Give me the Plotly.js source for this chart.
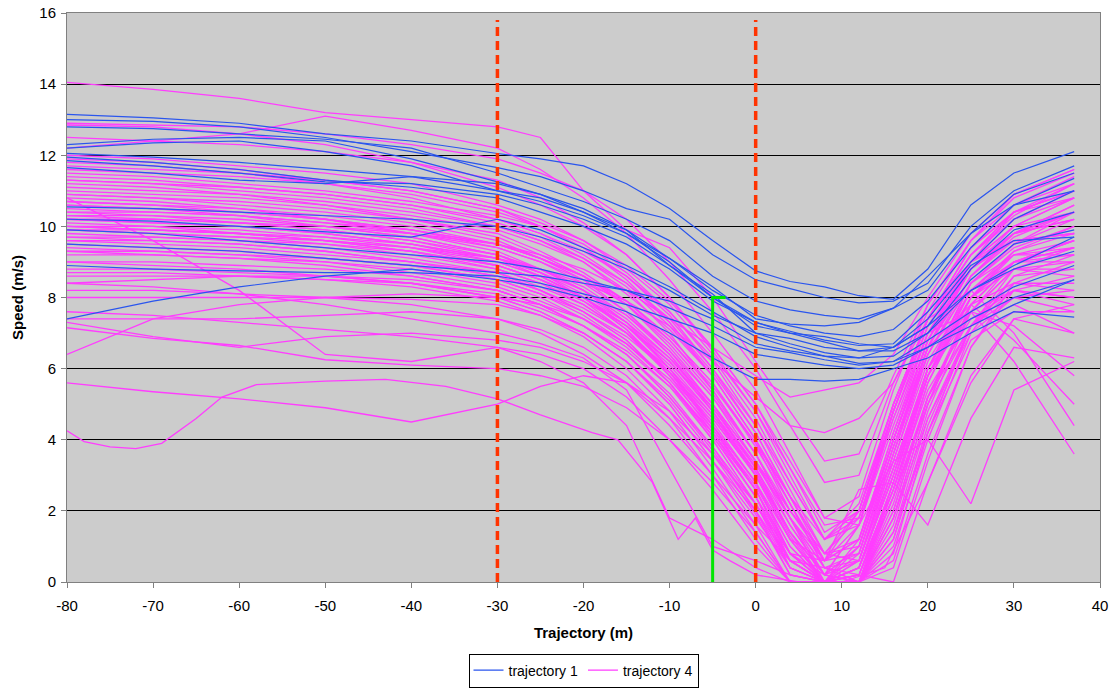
<!DOCTYPE html>
<html>
<head>
<meta charset="utf-8">
<script src="https://cdn.plot.ly/plotly-3.0.1.min.js"></script>
<style>html,body{margin:0;padding:0;background:#fff;}#chart{width:1114px;height:689px;}</style>
</head>
<body>
<div id="chart"></div>
<script>
// Shared sample positions along the trajectory (m)
const X = [-80,-70,-60,-50,-40,-30,-25,-20,-15,-10,-5,0,4,8,12,16,20,25,30,37];

// axis ticks
const xTickVals = [-80,-70,-60,-50,-40,-30,-20,-10,0,10,20,30,40];
const xTickLabels = ['-80','-70','-60','-50','-40','-30','-20','-10','0','10','20','30','40'];

// trajectory 1 (blue) speeds (m/s)
const blue1  = [13.15,13.05,12.9,12.6,12.4,12.05,11.9,11.7,11.2,10.5,9.6,8.75,8.45,8.3,8.05,7.95,8.8,10.6,11.5,12.1];
const blue2  = [13.0,12.95,12.8,12.5,12.1,11.65,11.4,11.0,10.5,10.2,9.2,8.5,8.25,8.0,7.85,7.9,8.4,10.0,11.0,11.7];
const blue3  = [12.8,12.75,12.6,12.45,12.2,11.5,11.1,10.7,10.2,9.6,8.6,7.9,7.65,7.5,7.4,7.7,8.2,9.8,10.9,11.5];
const blue4  = [12.3,12.45,12.5,12.4,11.9,11.25,10.9,10.5,9.9,9.1,8.2,7.5,7.2,7.0,6.9,7.1,7.9,9.4,10.6,11.35];
const blue5  = [12.2,12.35,12.4,12.1,11.7,11.0,10.7,10.3,9.8,9.0,8.0,7.3,7.05,6.8,6.65,6.7,7.6,9.0,10.2,11.0];
const blue6  = [12.05,11.95,11.8,11.6,11.4,11.2,10.9,10.4,9.9,8.9,8.0,7.2,7.0,6.9,6.7,6.6,7.2,8.8,9.9,10.4];
const blue7  = [11.95,11.8,11.6,11.3,11.1,10.8,10.4,10.0,9.5,8.8,7.9,7.3,7.0,6.75,6.5,6.5,7.0,8.5,9.5,9.9];
const blue8  = [11.85,11.7,11.5,11.25,11.2,10.9,10.6,10.2,9.7,8.9,8.1,7.0,6.85,6.6,6.5,6.6,7.4,8.9,9.6,9.7];
const blue9  = [11.65,11.5,11.3,11.2,11.4,11.0,10.8,10.4,9.8,9.1,8.3,7.4,7.25,7.2,7.3,7.7,8.6,9.8,10.6,11.0];
const blue10 = [10.55,10.5,10.4,10.3,10.2,10.0,9.7,9.3,8.8,8.2,7.5,7.0,6.7,6.45,6.3,6.35,7.0,8.2,8.8,9.3];
const blue11 = [10.2,10.15,10.0,9.85,9.7,10.2,9.9,9.4,8.9,8.3,7.6,6.9,6.6,6.35,6.15,6.2,6.8,7.6,8.3,8.9];
const blue12 = [9.9,9.8,9.6,9.4,9.2,9.0,8.8,8.5,8.2,7.7,7.2,6.6,6.45,6.25,6.1,6.2,6.6,7.2,7.8,8.5];
const blue13 = [7.4,7.9,8.3,8.6,8.8,8.5,8.3,8.0,7.6,7.0,6.3,5.7,5.7,5.65,5.7,6.0,6.3,7.0,7.6,7.45];
const blue14 = [9.5,9.4,9.3,9.1,8.9,8.7,8.6,8.4,8.2,7.9,7.4,6.7,6.5,6.35,6.3,6.6,7.2,8.2,8.9,9.7];
const blue15 = [8.9,8.8,8.75,8.7,8.7,8.6,8.4,8.1,7.8,7.4,7.0,6.4,6.25,6.1,6.0,6.1,6.6,7.4,8.0,8.5];

// trajectory 4 (magenta) speeds (m/s)
const pink1  = [14.05,13.85,13.6,13.2,13.0,12.8,12.5,11.0,9.9,9.4,8.0,6.2,4.8,3.4,3.6,5.8,7.8,9.6,10.8,11.5];
const pink2  = [12.9,12.85,12.8,12.6,12.3,11.9,11.5,11.0,10.2,9.0,7.6,6.0,4.4,2.8,3.0,5.6,7.6,9.6,10.9,11.6];
const pink3  = [12.2,12.4,12.6,13.1,12.7,12.2,11.6,10.8,9.8,8.5,7.0,5.4,3.6,1.8,1.6,4.8,7.4,9.4,10.4,11.0];
const pink4  = [12.85,12.8,12.6,12.3,11.8,11.1,10.6,10.0,9.2,8.0,6.6,5.0,3.2,1.6,1.8,4.6,7.0,9.0,10.0,10.8];
const pink5  = [12.0,11.9,11.7,11.5,11.2,10.6,10.2,9.6,8.8,7.8,6.4,4.8,3.2,1.4,2.0,5.0,7.4,9.2,10.3,11.2];
const pink6  = [11.7,11.6,11.5,11.3,11.0,10.5,10.0,9.5,8.7,7.6,6.2,4.4,2.6,0.8,1.2,4.2,6.8,8.8,9.8,10.6];
const pink7  = [11.5,11.4,11.2,11.0,10.7,10.3,10.0,9.4,8.6,7.5,6.0,4.2,2.4,0.6,0.8,3.8,6.6,8.6,9.7,10.4];
const pink8  = [11.4,11.3,11.1,10.9,10.6,10.1,9.7,9.1,8.3,7.2,5.8,4.0,2.2,0.4,0.0,2.8,6.0,8.4,9.5,10.2];
const pink9  = [11.3,11.2,11.0,10.8,10.5,10.0,9.6,9.0,8.2,7.0,5.4,3.6,1.8,0.0,0.0,2.4,5.6,8.0,9.3,10.0];
const pink10 = [11.1,11.0,10.9,10.6,10.3,9.9,9.5,9.0,8.1,7.1,5.8,4.0,2.4,0.8,0.6,3.4,6.4,8.4,9.5,10.4];
const pink11 = [11.0,10.9,10.8,10.6,10.2,9.7,9.2,8.6,7.8,6.6,5.2,3.4,1.6,0.2,0.0,2.6,5.8,8.2,9.3,9.8];
const pink12 = [10.9,10.8,10.6,10.4,10.1,9.6,9.1,8.5,7.6,6.4,4.8,3.0,1.2,0.0,0.0,1.8,5.0,7.8,9.0,9.6];
const pink13 = [10.8,10.7,10.5,10.3,10.0,9.5,9.1,8.6,7.9,6.9,5.6,3.8,2.2,0.6,1.2,4.0,6.8,8.8,9.8,10.6];
const pink14 = [10.7,10.6,10.5,10.2,9.9,9.4,9.0,8.4,7.6,6.5,5.0,3.2,1.4,0.0,0.0,0.8,4.2,7.2,8.8,9.4];
const pink15 = [10.6,10.5,10.4,10.2,9.8,9.3,8.8,8.2,7.3,6.0,4.4,2.6,0.8,0.0,0.4,3.0,6.0,8.4,9.4,10.0];
const pink16 = [10.5,10.4,10.3,10.1,9.8,9.4,9.0,8.5,7.8,6.8,5.5,3.9,2.4,1.2,2.2,5.0,7.4,9.2,10.2,10.8];
const pink17 = [10.4,10.3,10.2,10.0,9.7,9.2,8.7,8.0,7.2,6.2,4.8,3.2,1.6,0.2,0.0,0.4,3.4,6.6,8.4,9.0];
const pink18 = [10.3,10.3,10.1,9.9,9.6,9.1,8.7,8.2,7.5,6.5,5.2,3.6,1.8,0.4,0.8,3.8,6.6,8.6,9.6,9.8];
const pink19 = [10.2,10.1,10.0,9.8,9.5,9.1,8.6,8.0,7.1,5.9,4.3,2.6,0.6,0.0,0.0,1.6,4.8,7.6,9.0,9.6];
const pink20 = [10.1,10.0,9.9,9.7,9.4,8.9,8.5,7.9,7.0,5.8,4.4,2.8,1.0,0.0,0.8,3.6,6.4,8.6,9.8,10.4];
const pink21 = [10.0,10.0,9.8,9.6,9.3,8.8,8.4,7.8,7.0,5.9,4.6,3.0,1.2,0.0,0.0,2.2,5.2,7.6,8.8,9.0];
const pink22 = [9.9,9.8,9.7,9.5,9.2,8.8,8.4,7.9,7.2,6.2,4.9,3.3,1.8,0.6,1.6,4.6,7.2,9.0,10.0,10.4];
const pink23 = [9.8,9.7,9.6,9.4,9.1,8.7,8.2,7.6,6.8,5.6,4.1,2.4,0.4,0.0,0.0,1.0,4.0,7.0,8.6,9.2];
const pink24 = [9.6,9.6,9.5,9.3,9.0,8.6,8.2,7.7,7.0,6.0,4.7,3.1,1.4,0.2,1.0,4.0,6.8,8.8,9.6,9.8];
const pink25 = [9.5,9.4,9.3,9.1,8.9,8.5,8.1,7.6,6.9,5.9,4.5,2.8,0.8,0.0,0.2,2.8,5.8,8.0,9.2,9.4];
const pink26 = [9.4,9.3,9.2,9.0,8.8,8.4,8.0,7.4,6.6,5.5,4.0,2.2,0.4,0.0,0.0,0.6,3.6,6.6,8.2,8.6];
const pink27 = [9.2,9.2,9.1,9.0,8.7,8.3,7.9,7.4,6.7,5.7,4.3,2.7,1.0,0.0,0.6,3.4,6.2,8.2,9.0,9.0];
const pink28 = [9.0,9.0,8.9,8.8,8.6,8.2,7.8,7.2,6.4,5.3,3.8,2.0,0.2,0.0,0.0,2.0,5.2,7.6,8.8,8.8];
const pink29 = [8.8,8.8,8.7,8.6,8.4,8.1,7.7,7.2,6.5,5.5,4.2,2.6,0.8,0.0,0.4,3.2,6.0,8.0,8.8,8.6];
const pink30 = [8.6,8.6,8.6,8.5,8.4,8.0,7.6,7.0,6.2,5.1,3.6,1.9,0.2,0.0,0.0,1.4,4.6,7.2,8.4,8.4];
const pink31 = [8.4,8.5,8.6,8.6,8.5,8.2,7.8,7.2,6.4,5.2,3.7,2.0,0.4,0.0,0.2,2.8,5.8,8.0,9.0,9.2];
const pink32 = [8.0,8.0,8.0,8.0,7.95,7.8,7.5,7.0,6.2,5.0,3.4,1.6,0.0,0.0,0.0,2.0,5.2,7.8,9.0,9.4];
const pink33 = [7.4,7.4,7.4,7.5,7.6,7.4,7.1,6.6,5.8,4.6,3.0,1.2,0.0,0.0,0.0,1.2,4.4,7.2,8.2,8.0];
const pink34 = [7.3,6.9,6.6,6.9,7.0,6.8,6.6,6.2,5.6,4.6,3.4,2.0,0.6,0.0,0.4,3.0,5.8,7.6,8.2,7.8];
const pink35 = [6.4,7.4,7.8,8.0,8.1,8.0,7.8,7.4,6.7,5.6,4.2,2.6,0.8,0.0,1.0,3.8,6.4,8.4,9.2,9.2];
const pink36 = [7.15,6.85,6.65,6.25,6.1,6.0,5.8,5.5,4.9,4.0,2.8,1.4,0.0,0.0,0.2,2.4,5.0,7.2,8.0,7.6];
const pink37 = [10.8,9.6,8.2,6.4,6.2,6.6,6.4,6.0,5.2,4.0,2.6,1.0,0.0,0.0,0.6,3.2,5.8,7.8,8.4,8.2];
const pink38 = [5.6,5.35,5.15,4.9,4.5,5.0,5.5,5.8,5.6,4.8,3.6,2.2,0.6,0.0,0.0,2.4,5.2,7.2,7.8,7.0];
const pink40 = [9.6,9.5,9.4,9.2,9.0,8.6,8.2,7.6,6.8,5.6,4.0,2.2,0.6,0.0,1.2,4.2,7.0,7.6,6.2,3.6];
const pink41 = [9.7,9.6,9.5,9.3,9.0,8.7,8.3,7.8,7.0,5.9,4.4,2.8,1.2,0.6,2.0,4.8,7.4,8.2,7.0,4.4];
const pink42 = [10.2,10.1,10.0,9.8,9.5,9.0,8.6,8.0,7.2,6.0,4.6,3.0,1.4,0.2,1.0,4.0,6.6,7.8,6.8,5.0];
const pink43 = [9.3,9.2,9.1,8.9,8.6,8.2,7.8,7.2,6.4,5.2,3.8,2.2,0.8,0.6,2.6,2.8,1.6,4.6,6.6,6.3];
const pink44 = [10.0,9.9,9.8,9.6,9.4,9.0,8.6,8.0,7.1,5.8,4.2,2.4,0.8,0.2,1.6,3.4,4.0,2.2,5.4,6.2];
const pink45 = [8.2,8.2,8.1,8.0,7.8,7.4,7.0,6.4,5.6,4.4,3.0,1.6,0.6,0.4,0.2,0.0,2.8,5.8,7.4,7.0];
const pink46 = [7.6,7.5,7.3,7.1,6.9,6.6,6.2,5.6,4.4,1.8,1.2,0.4,0.0,0.0,0.0,1.4,4.2,6.8,7.6,7.6];
const pink47 = [8.4,8.3,8.1,7.8,7.4,7.0,6.7,6.3,5.4,3.2,1.0,0.6,0.2,0.0,0.4,2.6,5.4,7.4,8.2,8.0];
const pink48 = [11.6,11.5,11.4,11.2,10.9,10.4,10.0,9.4,8.5,7.3,5.8,4.0,2.2,0.4,0.6,3.6,6.6,9.0,10.4,11.0];
const pink49 = [11.9,11.8,11.6,11.3,11.0,10.5,10.1,9.6,8.9,7.9,6.6,5.0,3.4,1.8,2.4,5.4,7.8,9.6,10.6,11.4];
const pink50 = [12.5,12.4,12.3,12.1,11.8,11.3,10.8,10.1,9.2,8.0,6.5,4.8,3.0,1.2,1.6,4.8,7.4,9.4,10.6,11.2];
const pink51 = [10.9,10.8,10.7,10.5,10.2,9.8,9.3,8.7,7.9,6.8,5.4,3.6,1.8,0.2,0.6,3.6,6.6,8.8,10.0,10.8];
const pink52 = [10.4,10.4,10.3,10.1,9.9,9.5,9.1,8.6,7.8,6.7,5.3,3.6,2.0,0.8,1.8,4.8,7.2,9.0,9.8,10.2];
const pink53 = [9.7,9.7,9.6,9.5,9.3,8.9,8.5,8.0,7.3,6.3,5.0,3.4,2.0,0.8,2.0,5.0,7.4,9.0,9.6,9.8];
const pink54 = [10.6,10.5,10.3,10.0,9.7,9.2,8.8,8.3,7.5,6.4,5.0,3.4,1.8,0.4,0.0,1.2,4.2,7.2,8.6,8.8];
const pink55 = [11.2,11.1,10.9,10.7,10.4,10.0,9.6,9.1,8.4,7.4,6.0,4.4,2.8,1.2,2.0,5.0,7.4,9.2,10.4,10.8];
const pink56 = [10.3,10.2,10.1,10.0,9.8,9.5,9.2,8.8,8.2,7.4,6.6,5.8,5.2,5.4,5.6,6.4,8.0,9.8,10.9,11.6];
const pink57 = [9.9,9.8,9.7,9.6,9.4,9.1,8.8,8.4,7.9,7.2,6.2,5.2,4.4,4.2,4.6,5.6,7.4,9.2,10.4,11.2];
const pink58 = [9.0,8.9,8.8,8.6,8.4,8.0,7.6,7.0,6.2,5.0,3.4,1.8,0.4,0.0,0.4,3.2,6.0,7.6,7.2,5.8];
const pink59 = [11.8,11.7,11.5,11.2,10.8,10.2,9.8,9.2,8.4,7.3,5.9,4.2,2.4,0.8,1.0,4.0,6.8,9.0,10.2,11.0];
const pink60 = [10.0,9.9,9.8,9.6,9.3,8.9,8.5,8.0,7.2,6.1,4.7,3.0,1.2,0.0,0.0,1.8,5.0,7.8,9.0,9.6];
const pink61 = [9.3,9.3,9.2,9.1,8.9,8.5,8.1,7.5,6.7,5.6,4.1,2.4,0.6,0.0,0.2,2.6,5.6,8.0,9.0,9.4];
const pink62 = [10.7,10.6,10.4,10.2,9.9,9.5,9.1,8.6,7.9,6.9,5.6,3.9,2.0,0.6,1.2,4.0,6.8,8.8,9.8,10.4];
const pink63 = [8.7,8.7,8.6,8.5,8.3,7.9,7.5,6.9,6.0,4.8,3.2,1.4,0.0,0.0,0.0,1.8,4.6,7.0,8.0,8.2];
const pink64 = [11.3,11.2,11.1,10.9,10.6,10.2,9.8,9.3,8.6,7.6,6.3,4.6,2.8,1.2,1.8,4.8,7.4,9.4,10.4,11.0];
const pink65 = [9.9,9.9,9.8,9.7,9.5,9.1,8.7,8.1,7.3,6.2,4.8,3.1,1.3,0.0,0.4,3.0,6.0,8.2,9.2,9.6];
const pink66 = [10.2,10.2,10.1,9.9,9.6,9.2,8.8,8.2,7.4,6.3,4.9,3.2,1.4,0.2,1.6,4.4,7.0,8.8,9.8,10.2];

// one magenta run sampled at its own positions
const pink39X = [-80,-78,-75,-72,-69,-65,-62,-58,-50,-43,-36,-30,-25,-19,-16,-12,-9,-7,-5,-3,0,5,10,15,20,25,30,37];
const pink39  = [4.25,3.95,3.8,3.75,3.9,4.6,5.2,5.55,5.65,5.7,5.5,5.15,4.7,4.2,4.0,2.8,1.2,1.8,0.9,0.6,0.2,0,0,0.4,2.8,5.6,7.4,7.8];

// reference markers
const markerX1 = [-30,-30];
const markerY1 = [0,15.8];
const markerX2 = [0,0];
const markerY2 = [0,15.8];
const greenX = [-5,-5,-3.5];
const greenY = [0,8,8];

const blueSeries = [blue1,blue2,blue3,blue4,blue5,blue6,blue7,blue8,blue9,blue10,blue11,blue12,blue13,blue14,blue15];
const pinkSeries = [pink1,pink2,pink3,pink4,pink5,pink6,pink7,pink8,pink9,pink10,pink11,pink12,pink13,pink14,pink15,pink16,pink17,pink18,pink19,pink20,pink21,pink22,pink23,pink24,pink25,pink26,pink27,pink28,pink29,pink30,pink31,pink32,pink33,pink34,pink35,pink36,pink37,pink38,pink40,pink41,pink42,pink43,pink44,pink45,pink46,pink47,pink48,pink49,pink50,pink51,pink52,pink53,pink54,pink55,pink56,pink57,pink58,pink59,pink60,pink61,pink62,pink63,pink64,pink65,pink66];

const BLUE = '#2a55ee';
const PINK = '#ff3dff';
const traces = [];

pinkSeries.forEach((ys, i) => {
  traces.push({x: X, y: ys, type: 'scatter', mode: 'lines',
    line: {color: PINK, width: 1.3}, name: 'trajectory 4', legendgroup: 'p',
    showlegend: i === 0, legendrank: 2, hoverinfo: 'skip'});
});
traces.push({x: pink39X, y: pink39, type: 'scatter', mode: 'lines',
  line: {color: PINK, width: 1.3}, name: 'trajectory 4', legendgroup: 'p', showlegend: false, hoverinfo: 'skip'});

blueSeries.forEach((ys, i) => {
  traces.push({x: X, y: ys, type: 'scatter', mode: 'lines',
    line: {color: BLUE, width: 1.2}, name: 'trajectory 1', legendgroup: 'b',
    showlegend: i === 0, legendrank: 1, hoverinfo: 'skip'});
});

traces.push({x: markerX1, y: markerY1, type: 'scatter', mode: 'lines',
  line: {color: '#ff3300', width: 3.5, dash: '9px,5px'}, showlegend: false, hoverinfo: 'skip'});
traces.push({x: markerX2, y: markerY2, type: 'scatter', mode: 'lines',
  line: {color: '#ff3300', width: 3.5, dash: '9px,5px'}, showlegend: false, hoverinfo: 'skip'});
traces.push({x: greenX, y: greenY, type: 'scatter', mode: 'lines',
  line: {color: '#00e600', width: 3}, showlegend: false, hoverinfo: 'skip'});

const FAM = 'Liberation Sans, Arial, sans-serif';

const layout = {
  width: 1114, height: 689,
  margin: {l: 67, r: 14, t: 13, b: 107, autoexpand: false},
  paper_bgcolor: '#ffffff',
  plot_bgcolor: '#cccccc',
  font: {family: FAM, size: 14, color: '#000'},
  showlegend: true,
  xaxis: {
    range: [-80, 40], tickmode: 'array', tickvals: xTickVals, ticktext: xTickLabels,
    showgrid: false, zeroline: false, automargin: false,
    showline: true, linecolor: '#808080', linewidth: 1, mirror: true,
    ticks: 'outside', ticklen: 5, tickcolor: '#808080',
    ticklabelstandoff: 5,
    tickfont: {family: FAM, size: 15, color: '#000'},
    title: {text: '<b>Trajectory (m)</b>', font: {family: FAM, size: 15, color: '#000'}, standoff: 14}
  },
  yaxis: {
    range: [0, 16], dtick: 2, tick0: 0,
    showgrid: true, gridcolor: '#000000', gridwidth: 1, zeroline: false, automargin: false,
    showline: true, linecolor: '#808080', linewidth: 1, mirror: true,
    ticks: 'outside', ticklen: 5, tickcolor: '#808080',
    ticklabelstandoff: 2,
    tickfont: {family: FAM, size: 15, color: '#000'},
    title: {text: '<b>Speed (m/s)</b>', font: {family: FAM, size: 15, color: '#000'}, standoff: 12}
  },
  legend: {
    orientation: 'h', xref: 'paper', x: 0.5, xanchor: 'center',
    yref: 'container', y: 0.002, yanchor: 'bottom',
    bordercolor: '#000', borderwidth: 1, bgcolor: '#fff',
    font: {family: FAM, size: 14, color: '#000'},
    itemwidth: 30, tracegroupgap: 0
  }
};

Plotly.newPlot('chart', traces, layout, {staticPlot: true, displayModeBar: false});
</script>
</body>
</html>
